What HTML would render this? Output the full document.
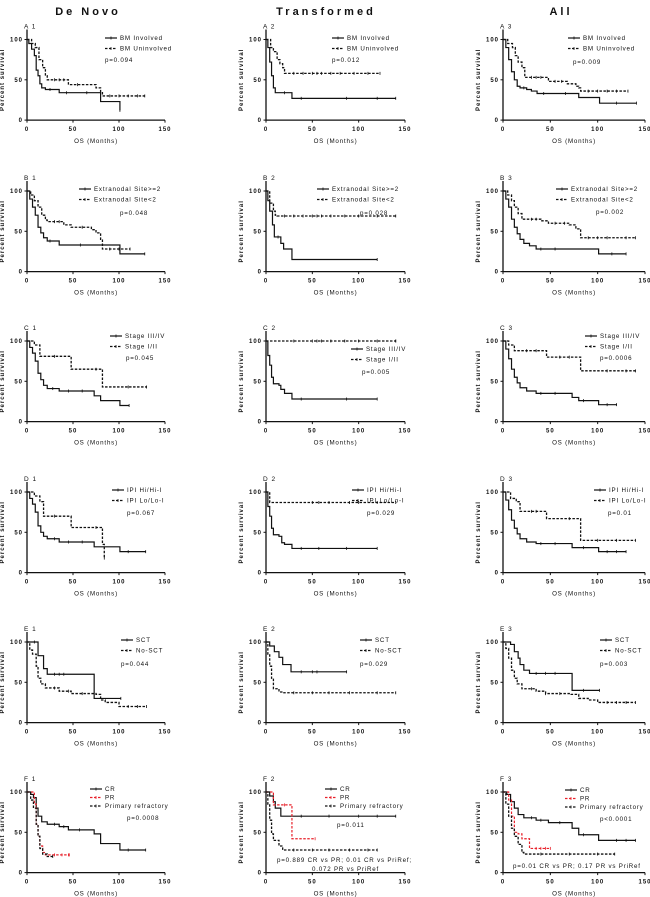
<!DOCTYPE html>
<html><head><meta charset="utf-8">
<style>
html,body{margin:0;padding:0;background:#fff;width:650px;height:897px;overflow:hidden}
svg text{font-family:"Liberation Sans",Arial,sans-serif;fill:#111}
.title{font-size:11px;font-weight:bold;letter-spacing:3px}
.tick{font-size:6px;font-weight:bold;letter-spacing:1px}
.lab{font-size:6.2px;letter-spacing:0.8px}
.plab{font-size:6.5px;letter-spacing:1px}
.yt{font-size:6px;font-weight:bold;letter-spacing:1px}
</style></head>
<body>
<svg id="fig" width="650" height="897" viewBox="0 0 650 897" xmlns="http://www.w3.org/2000/svg">
<text class="title" x="88" y="15" text-anchor="middle">De Novo</text>
<text class="title" x="326" y="15" text-anchor="middle">Transformed</text>
<text class="title" x="561" y="15" text-anchor="middle">All</text>
</svg>
<script>
// ---- data (time in months, survival in %) ----
const xTicks = [0, 50, 100, 150];
const yTicks = [0, 50, 100];
const rowLetters = ["A","B","C","D","E","F"];

const a1_inv_t = [0,2,5,8,10,12,14,16,20,35,80,101]; const a1_inv_s = [100,95,88,80,62,55,45,40,38,34,23,12]; const a1_inv_end = 101; const a1_inv_c = [25,43,65];
const a1_un_t = [0,5,9,13,17,20,22,45,75,80,82]; const a1_un_s = [100,95,90,75,65,55,50,44,40,35,30]; const a1_un_end = 128; const a1_un_c = [30,35,40,55,90,100,110,120];
const a2_inv_t = [0,2,4,6,8,10,28]; const a2_inv_s = [100,90,72,55,40,34,27]; const a2_inv_end = 140; const a2_inv_c = [20,38,87,120];
const a2_un_t = [0,5,8,12,15,18,20]; const a2_un_s = [100,90,85,75,70,65,58]; const a2_un_end = 123; const a2_un_c = [30,40,50,55,60,70,80,95,110];
const a3_inv_t = [0,3,6,9,12,15,18,25,30,36,80,102]; const a3_inv_s = [100,90,75,60,50,42,40,38,36,33,28,21]; const a3_inv_end = 141; const a3_inv_c = [22,43,66,120];
const a3_un_t = [0,5,10,13,16,20,23,48,68,77,80,82]; const a3_un_s = [100,95,90,80,72,65,53,48,45,42,40,36]; const a3_un_end = 132; const a3_un_c = [30,35,40,55,62,90,100,110,120];

const b1_hi_t = [0,3,6,9,12,15,18,22,35,101]; const b1_hi_s = [100,90,80,70,55,48,42,38,33,22]; const b1_hi_end = 128; const b1_hi_c = [25,58];
const b1_lo_t = [0,4,8,12,16,20,22,40,48,70,75,80,82]; const b1_lo_s = [100,95,88,80,70,64,62,58,55,52,48,40,28]; const b1_lo_end = 112; const b1_lo_c = [30,35,60,90,100];
const b2_hi_t = [0,2,4,7,9,16,19,28]; const b2_hi_s = [100,88,75,58,43,35,28,15]; const b2_hi_end = 120; const b2_hi_c = [13];
const b2_lo_t = [0,4,8,10,12]; const b2_lo_s = [100,85,75,70,69]; const b2_lo_end = 140; const b2_lo_c = [20,30,40,50,55,60,70,85,100,120];
const b3_hi_t = [0,3,6,9,12,15,18,22,28,35,101]; const b3_hi_s = [100,90,80,65,55,47,40,35,32,28,22]; const b3_hi_end = 130; const b3_hi_c = [40,55,115];
const b3_lo_t = [0,5,9,12,16,20,40,48,70,77,82]; const b3_lo_s = [100,95,88,80,72,65,63,60,58,53,42]; const b3_lo_end = 140; const b3_lo_c = [30,35,55,65,90,100,110,130];

const c1_hi_t = [0,3,6,9,12,15,18,22,35,73,80,101]; const c1_hi_s = [100,92,85,75,60,52,45,41,38,32,26,20]; const c1_hi_end = 111; const c1_hi_c = [28,45,60];
const c1_lo_t = [0,8,14,48,82]; const c1_lo_s = [100,95,81,65,43]; const c1_lo_end = 130; const c1_lo_c = [30,75,110];
const c2_hi_t = [0,2,4,6,8,14,16,20,28]; const c2_hi_s = [100,82,70,55,47,45,40,35,28]; const c2_hi_end = 120; const c2_hi_c = [38,87];
const c2_lo_t = [0]; const c2_lo_s = [100]; const c2_lo_end = 140; const c2_lo_c = [30,50,55,60,70,85,100,120,140];
const c3_hi_t = [0,3,6,9,12,15,18,25,35,73,80,101]; const c3_hi_s = [100,90,78,65,55,48,42,38,35,30,26,21]; const c3_hi_end = 120; const c3_hi_c = [40,55,85,110];
const c3_lo_t = [0,6,12,46,82]; const c3_lo_s = [100,95,88,80,63]; const c3_lo_end = 140; const c3_lo_c = [25,35,60,70,110,130];

const d1_hi_t = [0,3,6,9,12,15,18,22,35,73,101]; const d1_hi_s = [100,92,85,75,58,50,45,42,38,32,26]; const d1_hi_end = 129; const d1_hi_c = [30,45,60,110];
const d1_lo_t = [0,8,14,18,48,82,84]; const d1_lo_s = [100,95,88,70,56,35,18]; const d1_lo_end = 84; const d1_lo_c = [30,75];
const d2_hi_t = [0,2,4,6,8,14,17,20,28]; const d2_hi_s = [100,82,70,55,47,45,37,35,30]; const d2_hi_end = 120; const d2_hi_c = [38,57,87];
const d2_lo_t = [0,4]; const d2_lo_s = [100,87]; const d2_lo_end = 140; const d2_lo_c = [50,57,68,90,100,120];
const d3_hi_t = [0,3,6,9,12,15,18,25,35,73,101]; const d3_hi_s = [100,90,78,65,55,48,42,38,36,31,26]; const d3_hi_end = 130; const d3_hi_c = [40,55,85,110,120];
const d3_lo_t = [0,8,14,18,46,82]; const d3_lo_s = [100,92,88,76,67,40]; const d3_lo_end = 140; const d3_lo_c = [30,35,70,100,120];

const e1_sct_t = [0,12,18,22,73]; const e1_sct_s = [100,83,67,60,30]; const e1_sct_end = 102; const e1_sct_c = [8,30,35,40];
const e1_no_t = [0,3,6,10,12,15,20,35,48,75,80,85,100]; const e1_no_s = [100,90,85,70,55,48,43,39,36,35,28,25,20]; const e1_no_end = 130; const e1_no_c = [30,45,60,110,120];
const e2_sct_t = [0,4,9,14,18,27]; const e2_sct_s = [100,95,88,81,72,63]; const e2_sct_end = 87; const e2_sct_c = [38,50,55];
const e2_no_t = [0,2,4,6,8,14,18]; const e2_no_s = [100,85,70,55,42,38,37]; const e2_no_end = 140; const e2_no_c = [30,50,68,90,120];
const e3_sct_t = [0,8,12,16,18,22,28,73]; const e3_sct_s = [100,97,88,80,72,65,61,40]; const e3_sct_end = 102; const e3_sct_c = [35,45,55,85];
const e3_no_t = [0,3,6,9,12,15,20,35,45,72,80,90,100]; const e3_no_s = [100,92,80,65,55,48,42,39,36,35,30,28,25]; const e3_no_end = 140; const e3_no_c = [30,45,60,110,120,130];

const f1_cr_t = [0,4,7,10,12,16,22,35,45,73,80,101]; const f1_cr_s = [100,97,93,80,70,63,60,57,53,48,36,28]; const f1_cr_end = 129; const f1_cr_c = [30,40,57,110];
const f1_pr_t = [0,8,10,12,14,17,20]; const f1_pr_s = [100,85,60,45,33,25,22]; const f1_pr_end = 46; const f1_pr_c = [30,38,45];
const f1_ref_t = [0,4,7,10,12,14,17,22]; const f1_ref_s = [100,90,80,60,45,30,23,20]; const f1_ref_end = 28; const f1_ref_c = [];
const f2_cr_t = [0,4,8,10,16]; const f2_cr_s = [100,95,88,80,70]; const f2_cr_end = 140; const f2_cr_c = [38,68,100,120];
const f2_pr_t = [0,8,28]; const f2_pr_s = [100,84,42]; const f2_pr_end = 53; const f2_pr_c = [20];
const f2_ref_t = [0,2,4,6,8,14,18]; const f2_ref_s = [100,85,65,48,40,33,28]; const f2_ref_end = 120; const f2_ref_c = [30,50,68,90,110];
const f3_cr_t = [0,4,8,12,16,22,35,48,73,80,101]; const f3_cr_s = [100,97,88,80,72,68,65,62,55,47,40]; const f3_cr_end = 140; const f3_cr_c = [30,40,60,85,120,130];
const f3_pr_t = [0,6,9,12,16,20,28]; const f3_pr_s = [100,90,70,50,48,42,30]; const f3_pr_end = 50; const f3_pr_c = [35,40,45];
const f3_ref_t = [0,3,6,9,12,16,20,22]; const f3_ref_s = [100,85,70,55,45,35,25,23]; const f3_ref_end = 118; const f3_ref_c = [40,70,100];

// ---- layout ----
const NS = "http://www.w3.org/2000/svg";
const svg = document.getElementById("fig");
const colX = [27, 266, 503];
const colW = [138, 139, 142];
const rowTop = [39.5, 191, 341, 492, 642, 792];
const plotH = 80.6;

const S = (t,s,e,c,style)=>({t:t,s:s,e:e,c:c,style:style});
const panels = [
 {r:0,c:0,series:[S(a1_inv_t,a1_inv_s,a1_inv_end,a1_inv_c,"solid"),S(a1_un_t,a1_un_s,a1_un_end,a1_un_c,"dash")],leg:["BM Involved","BM Uninvolved"],lx:105,ly:38,p:["p=0.094"],px:105,py:62},
 {r:0,c:1,series:[S(a2_inv_t,a2_inv_s,a2_inv_end,a2_inv_c,"solid"),S(a2_un_t,a2_un_s,a2_un_end,a2_un_c,"dash")],leg:["BM Involved","BM Uninvolved"],lx:332,ly:38,p:["p=0.012"],px:332,py:62},
 {r:0,c:2,series:[S(a3_inv_t,a3_inv_s,a3_inv_end,a3_inv_c,"solid"),S(a3_un_t,a3_un_s,a3_un_end,a3_un_c,"dash")],leg:["BM Involved","BM Uninvolved"],lx:568,ly:38,p:["p=0.009"],px:573,py:64},
 {r:1,c:0,series:[S(b1_hi_t,b1_hi_s,b1_hi_end,b1_hi_c,"solid"),S(b1_lo_t,b1_lo_s,b1_lo_end,b1_lo_c,"dash")],leg:["Extranodal Site>=2","Extranodal Site<2"],lx:79,ly:189,p:["p=0.048"],px:120,py:215},
 {r:1,c:1,series:[S(b2_hi_t,b2_hi_s,b2_hi_end,b2_hi_c,"solid"),S(b2_lo_t,b2_lo_s,b2_lo_end,b2_lo_c,"dash")],leg:["Extranodal Site>=2","Extranodal Site<2"],lx:317,ly:189,p:["p=0.028"],px:360,py:215},
 {r:1,c:2,series:[S(b3_hi_t,b3_hi_s,b3_hi_end,b3_hi_c,"solid"),S(b3_lo_t,b3_lo_s,b3_lo_end,b3_lo_c,"dash")],leg:["Extranodal Site>=2","Extranodal Site<2"],lx:556,ly:189,p:["p=0.002"],px:596,py:214},
 {r:2,c:0,series:[S(c1_hi_t,c1_hi_s,c1_hi_end,c1_hi_c,"solid"),S(c1_lo_t,c1_lo_s,c1_lo_end,c1_lo_c,"dash")],leg:["Stage III/IV","Stage I/II"],lx:110,ly:336,p:["p=0.045"],px:126,py:360},
 {r:2,c:1,series:[S(c2_hi_t,c2_hi_s,c2_hi_end,c2_hi_c,"solid"),S(c2_lo_t,c2_lo_s,c2_lo_end,c2_lo_c,"dash")],leg:["Stage III/IV","Stage I/II"],lx:351,ly:349,p:["p=0.005"],px:362,py:374},
 {r:2,c:2,series:[S(c3_hi_t,c3_hi_s,c3_hi_end,c3_hi_c,"solid"),S(c3_lo_t,c3_lo_s,c3_lo_end,c3_lo_c,"dash")],leg:["Stage III/IV","Stage I/II"],lx:585,ly:336,p:["p=0.0006"],px:600,py:360},
 {r:3,c:0,series:[S(d1_hi_t,d1_hi_s,d1_hi_end,d1_hi_c,"solid"),S(d1_lo_t,d1_lo_s,d1_lo_end,d1_lo_c,"dash")],leg:["IPI Hi/Hi-I","IPI Lo/Lo-I"],lx:112,ly:490,p:["p=0.067"],px:127,py:515},
 {r:3,c:1,series:[S(d2_hi_t,d2_hi_s,d2_hi_end,d2_hi_c,"solid"),S(d2_lo_t,d2_lo_s,d2_lo_end,d2_lo_c,"dash")],leg:["IPI Hi/Hi-I","IPI Lo/Lo-I"],lx:352,ly:490,p:["p=0.029"],px:367,py:515},
 {r:3,c:2,series:[S(d3_hi_t,d3_hi_s,d3_hi_end,d3_hi_c,"solid"),S(d3_lo_t,d3_lo_s,d3_lo_end,d3_lo_c,"dash")],leg:["IPI Hi/Hi-I","IPI Lo/Lo-I"],lx:594,ly:490,p:["p=0.01"],px:608,py:515},
 {r:4,c:0,series:[S(e1_sct_t,e1_sct_s,e1_sct_end,e1_sct_c,"solid"),S(e1_no_t,e1_no_s,e1_no_end,e1_no_c,"dash")],leg:["SCT","No-SCT"],lx:121,ly:640,p:["p=0.044"],px:121,py:666},
 {r:4,c:1,series:[S(e2_sct_t,e2_sct_s,e2_sct_end,e2_sct_c,"solid"),S(e2_no_t,e2_no_s,e2_no_end,e2_no_c,"dash")],leg:["SCT","No-SCT"],lx:360,ly:640,p:["p=0.029"],px:360,py:666},
 {r:4,c:2,series:[S(e3_sct_t,e3_sct_s,e3_sct_end,e3_sct_c,"solid"),S(e3_no_t,e3_no_s,e3_no_end,e3_no_c,"dash")],leg:["SCT","No-SCT"],lx:600,ly:640,p:["p=0.003"],px:600,py:666},
 {r:5,c:0,series:[S(f1_cr_t,f1_cr_s,f1_cr_end,f1_cr_c,"solid"),S(f1_pr_t,f1_pr_s,f1_pr_end,f1_pr_c,"red"),S(f1_ref_t,f1_ref_s,f1_ref_end,f1_ref_c,"dash")],leg:["CR","PR","Primary refractory"],lx:90,ly:789,p:["p=0.0008"],px:127,py:820},
 {r:5,c:1,series:[S(f2_cr_t,f2_cr_s,f2_cr_end,f2_cr_c,"solid"),S(f2_pr_t,f2_pr_s,f2_pr_end,f2_pr_c,"red"),S(f2_ref_t,f2_ref_s,f2_ref_end,f2_ref_c,"dash")],leg:["CR","PR","Primary refractory"],lx:325,ly:789,p:["p=0.011","p=0.889 CR vs PR; 0.01 CR vs PriRef;","0.072 PR vs PriRef"],px:337,py:827,px2:[277,312],py2:[862,871]},
 {r:5,c:2,series:[S(f3_cr_t,f3_cr_s,f3_cr_end,f3_cr_c,"solid"),S(f3_pr_t,f3_pr_s,f3_pr_end,f3_pr_c,"red"),S(f3_ref_t,f3_ref_s,f3_ref_end,f3_ref_c,"dash")],leg:["CR","PR","Primary refractory"],lx:565,ly:790,p:["p<0.0001","p=0.01 CR vs PR; 0.17 PR vs PriRef"],px:600,py:821,px2:[513],py2:[868]}
];

function el(tag, attrs, parent){
  const e = document.createElementNS(NS, tag);
  for (const k in attrs) e.setAttribute(k, attrs[k]);
  (parent||svg).appendChild(e);
  return e;
}
function styleOf(st){
  if (st==="solid") return {stroke:"#111","stroke-width":1.2,fill:"none"};
  if (st==="red") return {stroke:"#e8202a","stroke-width":1.2,fill:"none","stroke-dasharray":"2.5,1.5"};
  return {stroke:"#111","stroke-width":1.3,fill:"none","stroke-dasharray":"2.5,1.5"};
}

panels.forEach(p=>{
  const x0 = colX[p.c], w = colW[p.c], y100 = rowTop[p.r], y0 = y100 + plotH;
  const X = t => x0 + t/150*w;
  const Y = s => y0 - s/100*plotH;
  const g = el("g", {});
  
  

  const ax = el("path", {d:`M${x0},${y100-10}V${y0}H${x0+w}`, stroke:"#111","stroke-width":1.3, fill:"none"}, g);
  
  
  xTicks.forEach(v=>{
    el("line",{x1:X(v),x2:X(v),y1:y0,y2:y0+2.5,stroke:"#111","stroke-width":1},g);
    const t = el("text",{x:X(v),y:y0+11,"text-anchor":"middle","class":"tick"},g);
    t.textContent = v;
    
    
  });
  yTicks.forEach(v=>{
    el("line",{x1:x0-2.5,x2:x0,y1:Y(v),y2:Y(v),stroke:"#111","stroke-width":1},g);
    const t = el("text",{x:x0-4,y:Y(v)+2,"text-anchor":"end","class":"tick"},g);
    t.textContent = v;
    
    
  });
  const xt = el("text",{x:x0+w/2,y:y0+23,"text-anchor":"middle","class":"lab"},g);
  xt.textContent = "OS (Months)";
  
  
  const yc = (y100+y0)/2, yx = x0-23;
  const yt = el("text",{x:yx,y:yc,"text-anchor":"middle","class":"yt",transform:`rotate(-90 ${yx} ${yc})`},g);
  yt.textContent = "Percent survival";
  
  
  const pl = el("text",{x:x0-3,y:y100-11,"class":"plab"},g);
  pl.textContent = rowLetters[p.r] + " " + (p.c+1);
  
  

  p.series.forEach((s,i)=>{
    let d = `M${X(s.t[0])},${Y(s.s[0])}`;
    for (let k=1;k<s.t.length;k++){ d += `H${X(s.t[k])}V${Y(s.s[k])}`; }
    d += `H${X(s.e)}`;
    const path = el("path", Object.assign({d:d}, styleOf(s.style)), g);
    
    
    const col = s.style==="red" ? "#e8202a" : "#111";
    const cs = s.c.concat([s.e]);
    cs.forEach(ct=>{
      let idx = 0;
      for (let k=0;k<s.t.length;k++) if (s.t[k] <= ct) idx = k;
      const yy = Y(s.s[idx]);
      const m = el("line",{x1:X(ct),x2:X(ct),y1:yy-1.5,y2:yy+1.5,stroke:col,"stroke-width":0.8},g);
      
      
    });
    const ly = p.ly + i*(p.series.length===3?8.5:10.5);
    const lst = styleOf(s.style);
    const ll = el("line", Object.assign({x1:p.lx,x2:p.lx+12,y1:ly,y2:ly}, lst), g);
    
    
    el("line",{x1:p.lx+6,x2:p.lx+6,y1:ly-1.5,y2:ly+1.5,stroke:col,"stroke-width":0.8},g);
    const lt = el("text",{x:p.lx+15,y:ly+2.2,"class":"lab"},g);
    lt.textContent = p.leg[i];
    
    
  });
  p.p.forEach((txt,i)=>{
    const px = i===0 ? p.px : p.px2[i-1];
    const py = i===0 ? p.py : p.py2[i-1];
    const t = el("text",{x:px,y:py,"class":"lab"},g);
    t.textContent = txt;
    
    
  });
});
</script>
</body></html>
